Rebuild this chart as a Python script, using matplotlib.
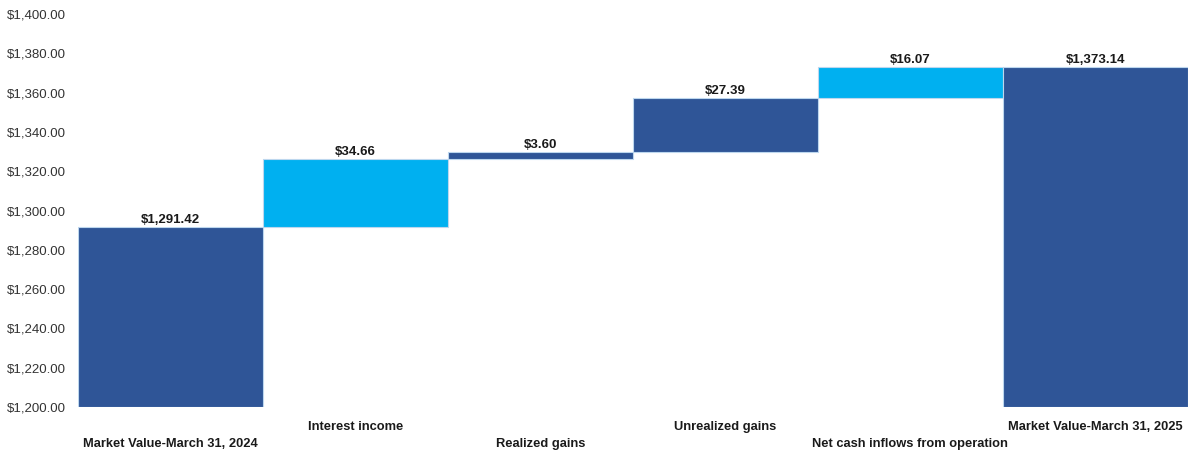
import numpy as np
import matplotlib.pyplot as plt

plt.rcParams['font.family'] = ['Liberation Sans Narrow', 'Liberation Sans', 'DejaVu Sans']

categories = ["Market Value-March 31, 2024", "Interest income", "Realized gains",
              "Unrealized gains", "Net cash inflows from operation", "Market Value-March 31, 2025"]
values = [1291.42, 34.66, 3.60, 27.39, 16.07, 1373.14]
is_total = [True, False, False, False, False, True]
value_labels = ["$1,291.42", "$34.66", "$3.60", "$27.39", "$16.07", "$1,373.14"]

dark = "#2F5597"
light = "#00B0F0"
bar_colors = [dark, light, dark, dark, light, dark]

bottoms = []
heights = []
running = 0.0
for v, tot in zip(values, is_total):
    if tot:
        bottoms.append(1200)
        heights.append(v - 1200)
        running = v
    else:
        bottoms.append(running)
        heights.append(v)
        running += v

fig = plt.figure(figsize=(11.89, 4.53), dpi=100)
ax = fig.add_axes([0.0656, 0.1015, 0.9334, 0.8675])
x = np.arange(len(categories))
ax.bar(x, heights, bottom=bottoms, width=1.0, color=bar_colors,
       edgecolor="#BDD7EE", linewidth=0.8)

for xi, b, h, lab in zip(x, bottoms, heights, value_labels):
    ax.text(xi, b + h + 0.6, lab, ha="center", va="bottom", fontsize=9.5,
            fontweight="bold", color="#1a1a1a",
            bbox=dict(facecolor="white", edgecolor="none", pad=0.5))

ax.set_xlim(-0.5, 5.5)
ax.set_ylim(1200, 1400)
ax.set_yticks(np.arange(1200, 1401, 20))
ax.yaxis.set_major_formatter(plt.FuncFormatter(lambda v, p: f"${v:,.2f}"))
ax.tick_params(axis="y", length=0, pad=9, labelsize=9.5, labelcolor="#333333")
ax.set_xticks([])
for s in ax.spines.values():
    s.set_visible(False)

trans = ax.get_xaxis_transform()
for xi, cat in zip(x, categories):
    y = -0.05 if xi % 2 == 1 else -0.093
    ax.text(xi, y, cat, transform=trans, ha="center", va="center",
            fontsize=9.3, fontweight="bold", color="#1a1a1a")

fig.savefig("out.png", dpi=100)
